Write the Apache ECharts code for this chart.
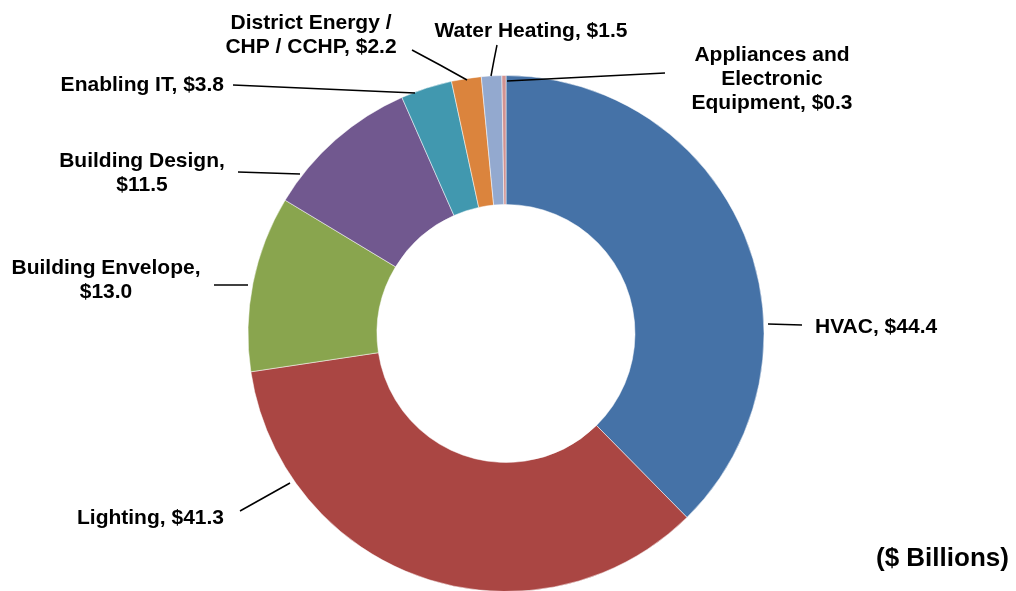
<!DOCTYPE html>
<html>
<head>
<meta charset="utf-8">
<script src="https://cdn.jsdelivr.net/npm/echarts@6/dist/echarts.min.js"></script>
<style>
  html, body { margin: 0; padding: 0; background: #fff; }
  #chart { width: 1016px; height: 591px; }
</style>
</head>
<body>
<div id="chart"></div>
<script>
// Market segments (clockwise from 12 o'clock) and their sizes in $ billions
const categories = [
  'HVAC',
  'Lighting',
  'Building Envelope',
  'Building Design',
  'Enabling IT',
  'District Energy /\nCHP / CCHP',
  'Water Heating',
  'Appliances and\nElectronic\nEquipment'
];
const values = [44.4, 41.3, 13.0, 11.5, 3.8, 2.2, 1.5, 0.3];
const unitLabel = '($ Billions)';

const colors = ['#4572A7', '#AA4643', '#89A54E', '#71588F', '#4198AF', '#DB843D', '#93A9CF', '#D19392'];

// Text placement and leader lines for each slice label (pixels)
const placements = [
  { x: 815, y: 327, align: 'left',   sep: ', ',  line: [[768, 324], [785, 324.5], [802, 325]] },
  { x: 224, y: 518, align: 'right',  sep: ', ',  line: [[290, 483], [265, 497], [240, 511]] },
  { x: 106, y: 280, align: 'center', sep: ',\n', line: [[248, 285], [231, 285], [214, 285]] },
  { x: 142, y: 173, align: 'center', sep: ',\n', line: [[300, 174], [269, 173], [238, 172]] },
  { x: 224, y: 85,  align: 'right',  sep: ', ',  line: [[415, 93], [324, 89], [233, 85]] },
  { x: 311, y: 35,  align: 'center', sep: ', ',  line: [[467, 80], [440, 65], [412, 50]] },
  { x: 531, y: 31,  align: 'center', sep: ', ',  line: [[491, 76], [494, 60], [497, 45]] },
  { x: 772, y: 79,  align: 'center', sep: ', ',  line: [[507, 81], [586, 77], [665, 73]] }
];

const pieGeometry = {
  center: [506, 333.5],
  radius: [129, 258],
  startAngle: 90,
  clockwise: true
};

const chart = echarts.init(document.getElementById('chart'), null, { renderer: 'canvas' });

const seriesData = categories.map(function (name, i) {
  return { name: name, value: values[i] };
});

chart.setOption({
  animation: false,
  backgroundColor: '#ffffff',
  color: colors,
  graphic: [{
    type: 'text',
    left: 876,
    top: 546,
    style: {
      text: unitLabel,
      fill: '#000',
      font: 'bold 26px "Liberation Sans", Arial, sans-serif'
    }
  }],
  series: [
    // coloured ring
    Object.assign({
      type: 'pie',
      z: 2,
      avoidLabelOverlap: false,
      itemStyle: { borderColor: '#ffffff', borderWidth: 0.5 },
      emphasis: { disabled: true },
      label: { show: false },
      labelLine: { show: false },
      data: seriesData
    }, pieGeometry),
    // labels and leader lines, drawn over the ring
    Object.assign({
      type: 'pie',
      z: 3,
      silent: true,
      avoidLabelOverlap: false,
      itemStyle: { color: 'rgba(0,0,0,0)', borderWidth: 0 },
      emphasis: { disabled: true },
      label: {
        show: true,
        position: 'outside',
        color: '#000',
        fontFamily: '"Liberation Sans", Arial, sans-serif',
        fontWeight: 'bold',
        fontSize: 21,
        lineHeight: 24,
        formatter: function (p) {
          return p.name + placements[p.dataIndex].sep + '$' + p.value.toFixed(1);
        }
      },
      labelLine: {
        show: true,
        lineStyle: { color: '#000', width: 1.5 }
      },
      labelLayout: function (params) {
        const p = placements[params.dataIndex];
        return {
          x: p.x,
          y: p.y,
          align: p.align,
          verticalAlign: 'middle',
          labelLinePoints: p.line
        };
      },
      data: seriesData.map(function (d, i) {
        return { name: d.name, value: d.value, label: { align: placements[i].align } };
      })
    }, pieGeometry)
  ]
});
</script>
</body>
</html>
